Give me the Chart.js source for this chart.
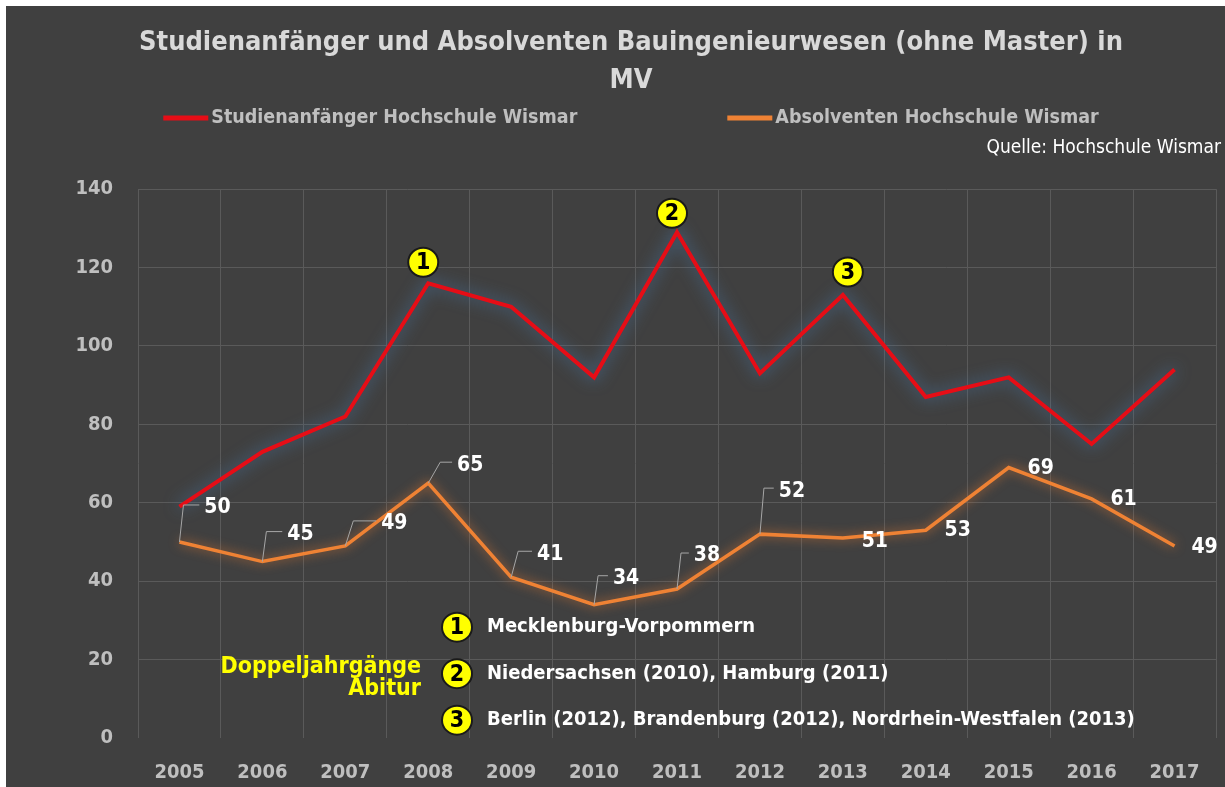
<!DOCTYPE html>
<html>
<head>
<meta charset="utf-8">
<script src="https://cdn.jsdelivr.net/npm/chart.js@4"></script>
<style>
  html, body { margin: 0; padding: 0; background: #fff; }
  #wrap { position: absolute; left: 6px; top: 6px; }
</style>
</head>
<body>
<div id="wrap"><canvas id="chart" width="1219" height="781"></canvas></div>
<script>
const years = ['2005', '2006', '2007', '2008', '2009', '2010', '2011', '2012', '2013', '2014', '2015', '2016', '2017'];
const anfaenger = [59, 73, 82, 116, 110, 92, 129, 93, 113, 87, 92, 75, 94];
const absolventen = [50, 45, 49, 65, 41, 34, 38, 52, 51, 53, 69, 61, 49];
const seriesNames = ['Studienanfänger Hochschule Wismar', 'Absolventen Hochschule Wismar'];
const yMin = 0, yMax = 140, yStep = 20;

// Doppeljahrgänge Abitur: marked points on the red line and the notes below
const markerIndex = [3, 6, 8];
const markerNotes = ['Mecklenburg-Vorpommern', 'Niedersachsen (2010), Hamburg (2011)', 'Berlin (2012), Brandenburg (2012), Nordrhein-Westfalen (2013)'];

const NARROW = '"Liberation Sans Narrow", "DejaVu Sans Condensed", "Arial Narrow", sans-serif';
const BG = '#404040';
const GRID = '#5a5a5a';
const RED = '#e60d16';
const ORANGE = '#ef8234';

// label offsets from point (dx, dy); first ones get a leader line
const labelOffsets = [[38, -34], [38, -27], [49, -22], [42, -18], [39, -23], [32, -26], [30, -33], [32, -43], [32, 3], [32, 0], [32, 1], [32, 1], [30, 2]];
const leaderCount = 8;
const markerOffsets = [[-5, -21], [-5, -19], [5, -23]];

function drawBadge(ctx, x, y, num) {
    ctx.save();
    ctx.beginPath();
    ctx.ellipse(x, y, 15, 14.5, 0, 0, Math.PI * 2);
    ctx.fillStyle = '#ffff00';
    ctx.fill();
    ctx.lineWidth = 2;
    ctx.strokeStyle = '#1a1a1a';
    ctx.stroke();
    ctx.fillStyle = '#000';
    ctx.font = 'bold 23px ' + NARROW;
    ctx.textAlign = 'center';
    ctx.textBaseline = 'middle';
    ctx.fillText(String(num), x, y + 1);
    ctx.restore();
}

const bgPlugin = {
    id: 'bg',
    beforeDraw(chart) {
        const ctx = chart.ctx;
        ctx.save();
        ctx.fillStyle = BG;
        ctx.fillRect(0, 0, chart.width, chart.height);
        ctx.restore();
    }
};

// soft glow behind both lines
const glowColors = ['rgba(72,118,165,1)', 'rgba(237,125,49,0.75)'];
const glowBlur = [16, 11];
const glowPlugin = {
    id: 'glow',
    beforeDatasetDraw(chart, args) {
        chart.ctx.save();
        chart.ctx.shadowColor = glowColors[args.index];
        chart.ctx.shadowBlur = glowBlur[args.index];
    },
    afterDatasetDraw(chart) {
        chart.ctx.restore();
    }
};

const extrasPlugin = {
    id: 'extras',
    afterDatasetsDraw(chart) {
        const ctx = chart.ctx;
        const area = chart.chartArea;

        // value labels on the orange line
        const meta = chart.getDatasetMeta(1);
        ctx.save();
        ctx.font = 'bold 21px ' + NARROW;
        ctx.textAlign = 'center';
        ctx.textBaseline = 'middle';
        meta.data.forEach((p, i) => {
            const [dx, dy] = labelOffsets[i];
            const lx = p.x + dx, ly = p.y + dy;
            const txt = String(absolventen[i]);
            const w = ctx.measureText(txt).width;
            if (i < leaderCount) {
                const bend = Math.max(4, 30 + dy);
                ctx.beginPath();
                ctx.moveTo(p.x, p.y);
                ctx.lineTo(p.x + bend, ly - 3);
                ctx.lineTo(lx - w / 2 - 5, ly - 3);
                ctx.strokeStyle = '#a6a6a6';
                ctx.lineWidth = 1;
                ctx.stroke();
            }
            ctx.fillStyle = '#ffffff';
            ctx.fillText(txt, lx, ly);
        });
        ctx.restore();

        // numbered badges on the red line
        const red = chart.getDatasetMeta(0);
        markerIndex.forEach((idx, k) => {
            const p = red.data[idx];
            drawBadge(ctx, p.x + markerOffsets[k][0], p.y + markerOffsets[k][1], k + 1);
        });

        // notes box
        const cx = area.left + 319;
        ctx.save();
        markerNotes.forEach((note, k) => {
            const cy = area.top + 438 + k * 46.5;
            drawBadge(ctx, cx, cy, k + 1);
            ctx.fillStyle = '#ffffff';
            ctx.font = 'bold 20px ' + NARROW;
            ctx.textAlign = 'left';
            ctx.textBaseline = 'middle';
            ctx.fillText(note, cx + 30, cy);
        });
        const cy2 = area.top + 438 + 46.5;
        ctx.fillStyle = '#ffff00';
        ctx.font = 'bold 23px ' + NARROW;
        ctx.textAlign = 'right';
        ctx.fillText('Doppeljahrgänge', cx - 36, cy2 - 7);
        ctx.fillText('Abitur', cx - 36, cy2 + 15);
        ctx.restore();
    },
    afterDraw(chart) {
        const ctx = chart.ctx;
        const centerX = (chart.options.layout.padding.left + chart.width - chart.options.layout.padding.right) / 2;
        // legend
        ctx.save();
        ctx.font = 'bold 19.5px ' + NARROW;
        ctx.textBaseline = 'middle';
        ctx.textAlign = 'left';
        const sampleW = 45, gapText = 3, gapItem = 150;
        const widths = chart.data.datasets.map(d => ctx.measureText(d.label).width);
        const total = widths.reduce((a, w) => a + sampleW + gapText + w, 0) + gapItem;
        let x = centerX - total / 2;
        const y = 112;
        chart.data.datasets.forEach((d, i) => {
            ctx.fillStyle = d.borderColor;
            ctx.fillRect(x, y - 2.5, sampleW, 5);
            ctx.fillStyle = '#bfbfbf';
            ctx.fillText(d.label, x + sampleW + gapText, y);
            x += sampleW + gapText + widths[i] + gapItem;
        });
        // source
        ctx.font = '19px ' + NARROW;
        ctx.fillStyle = '#ffffff';
        ctx.textAlign = 'right';
        ctx.fillText('Quelle: Hochschule Wismar', chart.width - 4, 142);
        ctx.restore();
    }
};

new Chart(document.getElementById('chart'), {
    type: 'line',
    data: {
        labels: years,
        datasets: [
            {
                label: seriesNames[0],
                data: anfaenger,
                borderColor: RED,
                backgroundColor: RED,
                borderWidth: 4,
                pointRadius: 0,
                tension: 0
            },
            {
                label: seriesNames[1],
                data: absolventen,
                borderColor: ORANGE,
                backgroundColor: ORANGE,
                borderWidth: 3.5,
                pointRadius: 0,
                tension: 0
            }
        ]
    },
    options: {
        responsive: false,
        animation: false,
        layout: { padding: { left: 40, right: 9, top: 0, bottom: 0 } },
        plugins: {
            legend: { display: false },
            tooltip: { enabled: false },
            title: {
                display: true,
                text: ['Studienanfänger und Absolventen Bauingenieurwesen (ohne Master) in', 'MV'],
                color: '#d9d9d9',
                font: { family: NARROW, size: 27, weight: 'bold', lineHeight: 1.41 },
                padding: { top: 18, bottom: 89 }
            }
        },
        scales: {
            x: {
                offset: true,
                afterFit(scale) { scale.height = 49; },
                grid: { offset: true, color: GRID, drawTicks: false },
                border: { display: false },
                ticks: { color: '#bfbfbf', padding: 23, font: { family: NARROW, size: 20, weight: 'bold' } }
            },
            y: {
                min: yMin,
                max: yMax,
                afterFit(scale) { scale.width = 92; },
                grid: {
                    color: ctx => ctx.tick && ctx.tick.value === 0 ? 'rgba(0,0,0,0)' : GRID,
                    drawTicks: false
                },
                border: { display: false },
                ticks: { stepSize: yStep, color: '#bfbfbf', padding: 25, font: { family: NARROW, size: 20, weight: 'bold' } }
            }
        }
    },
    plugins: [bgPlugin, glowPlugin, extrasPlugin]
});
</script>
</body>
</html>
